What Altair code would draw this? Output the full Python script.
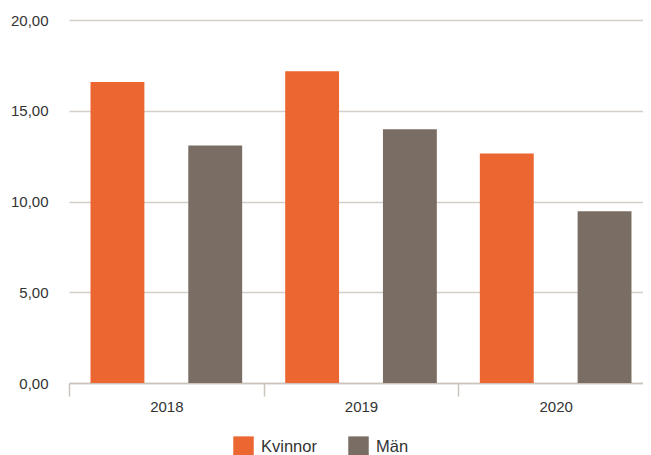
import altair as alt
import pandas as pd

years = ["2018", "2019", "2020"]
groups = ["Kvinnor", "Män"]
kvinnor = [16.58, 17.17, 12.65]
man = [13.09, 13.98, 9.46]
y_ticks = [0, 5, 10, 15, 20]
colors = ["#EC6631", "#7A6E64"]

rows = []
for i, yr in enumerate(years):
    rows.append({"year": yr, "group": "Kvinnor", "value": kvinnor[i]})
    rows.append({"year": yr, "group": "Män", "value": man[i]})
df = pd.DataFrame(rows)

font = "Liberation Sans"

chart = alt.Chart(df).mark_bar().encode(
    x=alt.X("year:N", sort=years, title=None,
            scale=alt.Scale(paddingInner=0, paddingOuter=0),
            axis=alt.Axis(labelAngle=0, tickBand="extent", tickSize=13,
                          labelPadding=3, domainColor="#CBC4BB", tickColor="#CBC4BB",
                          domainWidth=1.5, tickWidth=1.5, labelFontSize=15,
                          labelColor="#333333", labelFont=font, grid=False)),
    xOffset=alt.XOffset("group:N", sort=groups,
                        scale=alt.Scale(paddingInner=0.449, paddingOuter=0.22)),
    y=alt.Y("value:Q", title=None,
            scale=alt.Scale(domain=[0, 20], nice=False),
            axis=alt.Axis(values=y_ticks, domain=False, ticks=False,
                          labelPadding=21, labelFontSize=15, labelColor="#333333",
                          labelFont=font, gridColor="#D3CEC8", gridWidth=1.5,
                          labelExpr="replace(format(datum.value, '.2f'), '.', ',')")),
    color=alt.Color("group:N", sort=groups, title=None,
                    scale=alt.Scale(domain=groups, range=colors),
                    legend=alt.Legend(orient="none", legendX=164, legendY=416,
                                      direction="horizontal", symbolType="square",
                                      symbolSize=420, symbolStrokeWidth=0,
                                      labelFontSize=16.5, labelFont=font,
                                      labelColor="#333333", labelOffset=7,
                                      columnPadding=31)),
).properties(
    width=584, height=363,
    autosize=alt.AutoSizeParams(type="none"),
    padding={"left": 61, "top": 12, "right": -10, "bottom": 80},
).configure_view(stroke=None)

chart.save("out.html", embed_options={"renderer": "svg", "actions": False})
